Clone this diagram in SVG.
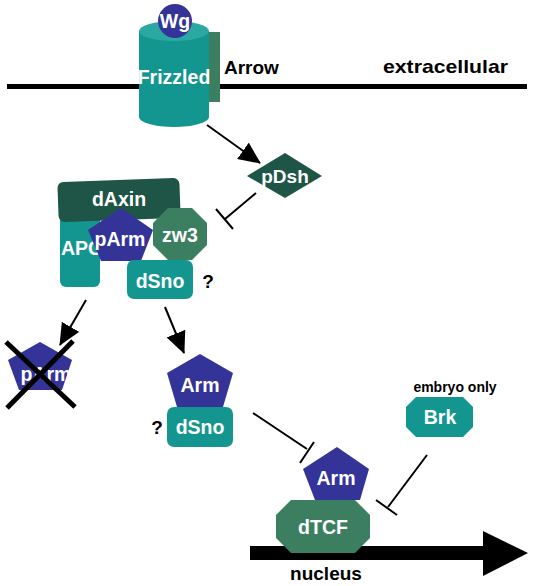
<svg xmlns="http://www.w3.org/2000/svg" width="534" height="586" viewBox="0 0 534 586">
<style>
text{font-family:"Liberation Sans",Arial,sans-serif;font-weight:bold;text-anchor:middle}
.w{fill:#fff;font-size:19.5px}
.b{fill:#000;font-size:19px}
.teal{fill:#13968f}
.dg{fill:#1e5546}
.mg{fill:#3b7f60}
.blue{fill:#343398}
.ln{stroke:#000;stroke-width:2;fill:none}
</style>
<defs>
<marker id="ah" markerUnits="userSpaceOnUse" markerWidth="22" markerHeight="20" refX="21" refY="10" orient="auto">
<path d="M0,0 L22,10 L0,20 z" fill="#000"/>
</marker>
</defs>
<rect width="534" height="586" fill="#fff"/>
<g id="membrane">
<line x1="7" y1="86.5" x2="527" y2="86.5" stroke="#000" stroke-width="5"/>
<text x="383" y="73" class="b" style="text-anchor:start" textLength="125" lengthAdjust="spacingAndGlyphs">extracellular</text>
</g>
<g id="arrow-receptor">
<rect x="207" y="32" width="13" height="70" class="mg"/>
<text x="224" y="74" class="b" style="text-anchor:start">Arrow</text>
</g>
<g id="frizzled">
<rect x="139" y="31" width="70" height="86" class="teal"/>
<ellipse cx="174" cy="117" rx="35" ry="10" class="teal"/>
<ellipse cx="174" cy="31" rx="35" ry="10" fill="#2ba8a1"/>
<text x="174" y="84" class="w">Frizzled</text>
</g>
<g id="wg">
<circle cx="175" cy="21" r="17" class="blue"/>
<text x="175" y="28" class="w">Wg</text>
</g>
<g id="connectors">
<line x1="207" y1="125" x2="260" y2="163" class="ln" marker-end="url(#ah)"/>
<line x1="256" y1="193" x2="225" y2="219" class="ln"/>
<line x1="216" y1="209" x2="233" y2="229" class="ln"/>
<line x1="86" y1="300" x2="60" y2="345" class="ln" marker-end="url(#ah)"/>
<line x1="165" y1="307" x2="184" y2="353" class="ln" marker-end="url(#ah)"/>
<line x1="253" y1="413" x2="307" y2="449" class="ln"/>
<line x1="300" y1="463" x2="314" y2="442" class="ln"/>
<line x1="427" y1="455" x2="388" y2="507" class="ln"/>
<line x1="376" y1="500" x2="397" y2="515" class="ln"/>
</g>
<g id="pdsh">
<polygon points="247,176 285,153 322,176 285,198" class="dg"/>
<text x="285" y="183" class="w" style="font-size:19px">pDsh</text>
</g>
<g id="apc">
<rect x="60" y="212" width="40" height="75" rx="6" class="teal"/>
<text x="61" y="255" class="w" style="text-anchor:start">APC</text>
</g>
<g id="daxin">
<rect x="58" y="180" width="122" height="40" rx="6" class="dg" transform="rotate(-2 119 200)"/>
<text x="119" y="206" class="w">dAxin</text>
</g>
<g id="parm-complex">
<polygon points="121,208 153,230 141,261 101,261 88,230" class="blue"/>
<text x="120" y="246" class="w">pArm</text>
</g>
<g id="zw3">
<polygon points="168,208 192,208 207,223 207,245 192,260 168,260 153,245 153,223" class="mg"/>
<text x="180" y="242" class="w">zw3</text>
</g>
<g id="dsno-complex">
<rect x="127" y="260" width="66" height="39" rx="7" class="teal"/>
<text x="160" y="288" class="w">dSno</text>
<text x="208" y="288" class="b">?</text>
</g>
<g id="parm-degraded">
<polygon points="40,342 72,360 62,390 19,390 8,360" class="blue"/>
<text x="46" y="381" class="w">pArm</text>
<line x1="6" y1="342" x2="75" y2="407" stroke="#000" stroke-width="5"/>
<line x1="7" y1="408" x2="73" y2="341" stroke="#000" stroke-width="5"/>
</g>
<g id="arm-dsno">
<polygon points="200,354 233,373 223,407 177,407 167,373" class="blue"/>
<text x="200" y="392" class="w">Arm</text>
<rect x="167" y="407" width="66" height="40" rx="7" class="teal"/>
<text x="200" y="434" class="w">dSno</text>
<text x="157" y="434" class="b">?</text>
</g>
<g id="brk">
<text x="455" y="392" class="b" style="font-size:14px">embryo only</text>
<polygon points="416,397 463,397 473,407 473,427 463,437 416,437 406,427 406,407" class="teal"/>
<text x="440" y="424" class="w">Brk</text>
</g>
<g id="nucleus">
<polygon points="250,546 483,546 483,531 528,553 483,576 483,560 250,560" fill="#000"/>
<text x="326" y="580" class="b">nucleus</text>
</g>
<g id="dtcf">
<polygon points="291,500 355,500 370,515 370,538 355,553 291,553 276,538 276,515" class="mg"/>
<text x="323" y="534" class="w">dTCF</text>
</g>
<g id="arm-nuclear">
<polygon points="337,447 369,469 360,500 315,500 303,469" class="blue"/>
<text x="336" y="485" class="w">Arm</text>
</g>
</svg>
